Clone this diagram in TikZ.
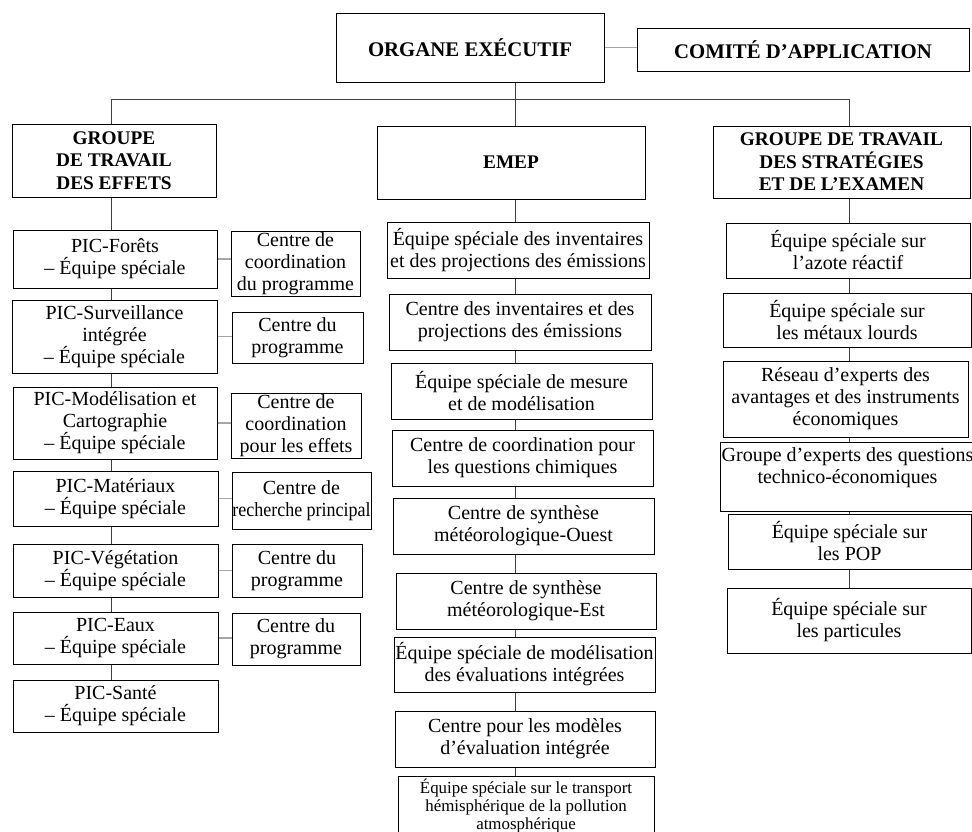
\documentclass[tikz,border=0pt]{standalone}
\usepackage{fontspec}
\setmainfont{Liberation Serif}
\usetikzlibrary{backgrounds,shadows}

\begin{document}
\begin{tikzpicture}[x=1pt,y=-1pt,
    box/.style={draw=black,line width=0.8pt,fill=white,align=center,inner sep=1pt,
      font=\fontsize{20}{22}\selectfont,
      drop shadow={opacity=0.25,shadow xshift=1.2pt,shadow yshift=-1.2pt}},
    titlebox/.style={box,font=\fontsize{19.3}{22.5}\selectfont\bfseries},
    topbox/.style={box,font=\fontsize{20.8}{24}\selectfont\bfseries},
    smallbox/.style={box,font=\fontsize{16.9}{18}\selectfont},
    spine/.style={draw=black!75,line width=0.8pt},
    link/.style={draw=black!35,line width=1.4pt}]
  \useasboundingbox (0,0) rectangle (972,832);
  % TOP
  \node[topbox,minimum width=268pt,minimum height=69pt] (org) at (470,47.5) {ORGANE EXÉCUTIF};
  \node[topbox,minimum width=332pt,minimum height=43pt] (comite) at (803,49.5) {COMITÉ D’APPLICATION};
  \coordinate (colL) at (111,99);
  \coordinate (colM) at (515,99);
  \coordinate (colR) at (849,99);
  % LEFT : GROUPE DE TRAVAIL DES EFFETS
  \node[titlebox,minimum width=204pt,minimum height=73pt] (grpeff) at (114,160.5) {GROUPE\\DE TRAVAIL\\DES EFFETS};
  \node[box,minimum width=204pt,minimum height=58pt] (picfor) at (115,259) {PIC-Forêts\\– Équipe spéciale};
  \node[box,minimum width=129pt,minimum height=65pt] (cfor) at (295.5,263.5) {Centre de\\coordination\\du programme};
  \node[box,minimum width=205pt,minimum height=73pt] (picsurv) at (114.5,336.5) {PIC-Surveillance\\intégrée\\– Équipe spéciale};
  \node[box,minimum width=131pt,minimum height=51pt] (csurv) at (297.5,337.5) {Centre du\\programme};
  \node[box,minimum width=204pt,minimum height=72pt] (picmod) at (115,423) {PIC-Modélisation et\\Cartographie\\– Équipe spéciale};
  \node[box,minimum width=130pt,minimum height=65pt] (cmod) at (296,425.5) {Centre de\\coordination\\pour les effets};
  \node[box,minimum width=205pt,minimum height=55pt] (picmat) at (115.5,498.5) {PIC-Matériaux\\– Équipe spéciale};
  \node[box,minimum width=139pt,minimum height=57pt,inner sep=0pt] (cmat) at (301.5,500.5) {Centre de\\\addfontfeature{FakeStretch=0.9}recherche principal};
  \node[box,minimum width=205pt,minimum height=53pt] (picveg) at (115.5,570.5) {PIC-Végétation\\– Équipe spéciale};
  \node[box,minimum width=130pt,minimum height=53pt] (cveg) at (297,570.5) {Centre du\\programme};
  \node[box,minimum width=205pt,minimum height=52pt] (piceau) at (115.5,638) {PIC-Eaux\\– Équipe spéciale};
  \node[box,minimum width=128pt,minimum height=52pt] (ceau) at (296,639) {Centre du\\programme};
  \node[box,minimum width=205pt,minimum height=52pt] (picsan) at (115.5,706) {PIC-Santé\\– Équipe spéciale};
  % MIDDLE : EMEP
  \node[titlebox,minimum width=268pt,minimum height=73pt] (emep) at (511,162.5) {EMEP};
  \node[box,minimum width=262pt,minimum height=56pt] (inv) at (518,250) {Équipe spéciale des inventaires\\et des projections des émissions};
  \node[box,minimum width=262pt,minimum height=56pt] (cinv) at (520,322) {Centre des inventaires et des\\projections des émissions};
  \node[box,minimum width=261pt,minimum height=56pt] (mes) at (521.5,391) {Équipe spéciale de mesure\\et de modélisation};
  \node[box,minimum width=261pt,minimum height=56pt] (chim) at (522.5,458) {Centre de coordination pour\\les questions chimiques};
  \node[box,minimum width=261pt,minimum height=56pt] (ouest) at (523.5,526) {Centre de synthèse\\météorologique-Ouest};
  \node[box,minimum width=260pt,minimum height=56pt] (est) at (526,601) {Centre de synthèse\\météorologique-Est};
  \node[box,minimum width=261pt,minimum height=55pt] (evint) at (524.5,664.5) {Équipe spéciale de modélisation\\des évaluations intégrées};
  \node[box,minimum width=260pt,minimum height=56pt] (cevint) at (525,739) {Centre pour les modèles\\d’évaluation intégrée};
  \node[smallbox,minimum width=256pt,minimum height=60pt] (hemis) at (526,806) {Équipe spéciale sur le transport\\hémisphérique de la pollution\\atmosphérique};
  % RIGHT : GROUPE DE TRAVAIL DES STRATEGIES ET DE L'EXAMEN
  \node[titlebox,minimum width=257pt,minimum height=72pt] (grpstr) at (841.5,162) {GROUPE DE TRAVAIL\\DES STRATÉGIES\\ET DE L’EXAMEN};
  \node[box,minimum width=244pt,minimum height=55pt] (azote) at (848,250.5) {Équipe spéciale sur\\l’azote réactif};
  \node[box,minimum width=248pt,minimum height=54pt] (metaux) at (847,320) {Équipe spéciale sur\\les métaux lourds};
  \node[box,minimum width=245pt,minimum height=76pt] (reseau) at (845.5,399) {Réseau d’experts des\\avantages et des instruments\\économiques};
  \node[box,minimum width=247pt,minimum height=69pt] (techeco) at (847.5,476.5) {Groupe d’experts des questions\\technico-économiques\\\mbox{}};
  \node[box,minimum width=243pt,minimum height=55pt] (pop) at (849.5,541.5) {Équipe spéciale sur\\les POP};
  \node[box,minimum width=244pt,minimum height=65pt] (partic) at (849,620.5) {Équipe spéciale sur\\les particules};
  % CONNECTORS
  \begin{scope}[on background layer]
    \draw[link] (org.east) -- (org.east -| comite.west);
    \draw[spine] (org.south -| colM) -- (colM);
    \draw[spine] (colL) -- (colR);
    \draw[spine] (colL) -- (colL |- picsan.north);
    \draw[spine] (colM) -- (colM |- hemis.north);
    \draw[spine] (colR) -- (colR |- partic.north);
    \draw[link] (picfor.east) -- (picfor.east -| cfor.west);
    \draw[link] (picsurv.east) -- (picsurv.east -| csurv.west);
    \draw[link] (picmod.east) -- (picmod.east -| cmod.west);
    \draw[link] (picmat.east) -- (picmat.east -| cmat.west);
    \draw[link] (picveg.east) -- (picveg.east -| cveg.west);
    \draw[link] (piceau.east) -- (piceau.east -| ceau.west);
  \end{scope}
\end{tikzpicture}
\end{document}
